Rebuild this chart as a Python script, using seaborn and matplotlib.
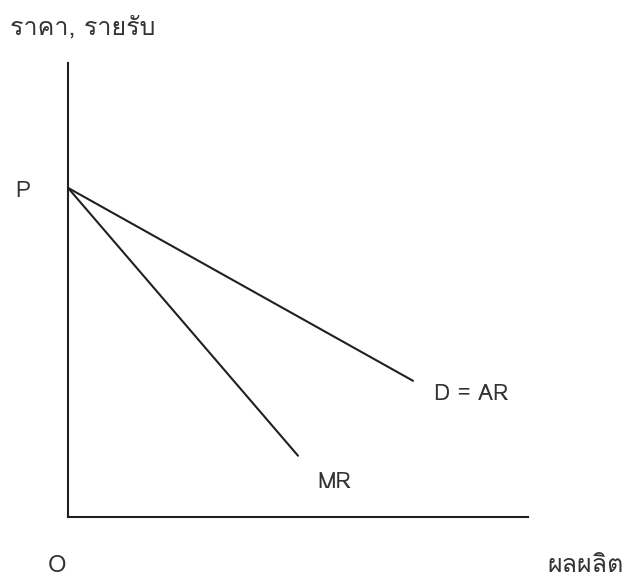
import matplotlib
matplotlib.use("Agg")
import matplotlib.pyplot as plt
import seaborn as sns
from matplotlib import font_manager
from matplotlib.ft2font import FT2Font

# Demand (AR) and marginal revenue lines
d_qty = [0, 7.5]
d_price = [7.25, 3.0]
mr_qty = [0, 5.0]
mr_price = [7.25, 1.35]

y_label = "ราคา, รายรับ"
x_label = "ผลผลิต"


def thai_font():
    # find any installed font that has Thai glyphs
    for f in font_manager.fontManager.ttflist:
        try:
            ft = FT2Font(f.fname)
            if all(ft.get_char_index(ord(c)) for c in "ราคาผลิต"):
                return f.name
        except Exception:
            pass
    return "DejaVu Sans"


sns.set_style("white")
thai = thai_font()
plt.rcParams["font.family"] = [thai, "DejaVu Sans"]

ink = "#231f20"
txt = "#333333"
fig = plt.figure(figsize=(6.3, 5.81), dpi=100)
ax = fig.add_axes([68 / 630, 64 / 581, 460 / 630, 454 / 581])

sns.lineplot(x=d_qty, y=d_price, ax=ax, color=ink, lw=1.5)
sns.lineplot(x=mr_qty, y=mr_price, ax=ax, color=ink, lw=1.5)

ax.set_xlim(0, 10)
ax.set_ylim(0, 10)
ax.set_xticks([])
ax.set_yticks([])
sns.despine(ax=ax)
for s in ("left", "bottom"):
    ax.spines[s].set_color(ink)
    ax.spines[s].set_linewidth(1.5)

ax.text(-0.98, 7.18, "P", ha="center", va="center", fontsize=16, color=txt)
ax.text(7.96, 2.69, "D = AR", ha="left", va="center", fontsize=16, color=txt)
ax.text(5.43, 0.75, "MR", ha="left", va="center", fontsize=16, color=txt)
ax.text(-0.24, -1.06, "O", ha="center", va="center", fontsize=17, color=txt)
ax.text(10.43, -1.06, x_label, ha="left", va="center", fontsize=18, color=txt)
fig.text(10 / 630, 1 - 28 / 581, y_label, ha="left", va="center", fontsize=18,
         color=txt)

fig.savefig("out.png", dpi=100)
